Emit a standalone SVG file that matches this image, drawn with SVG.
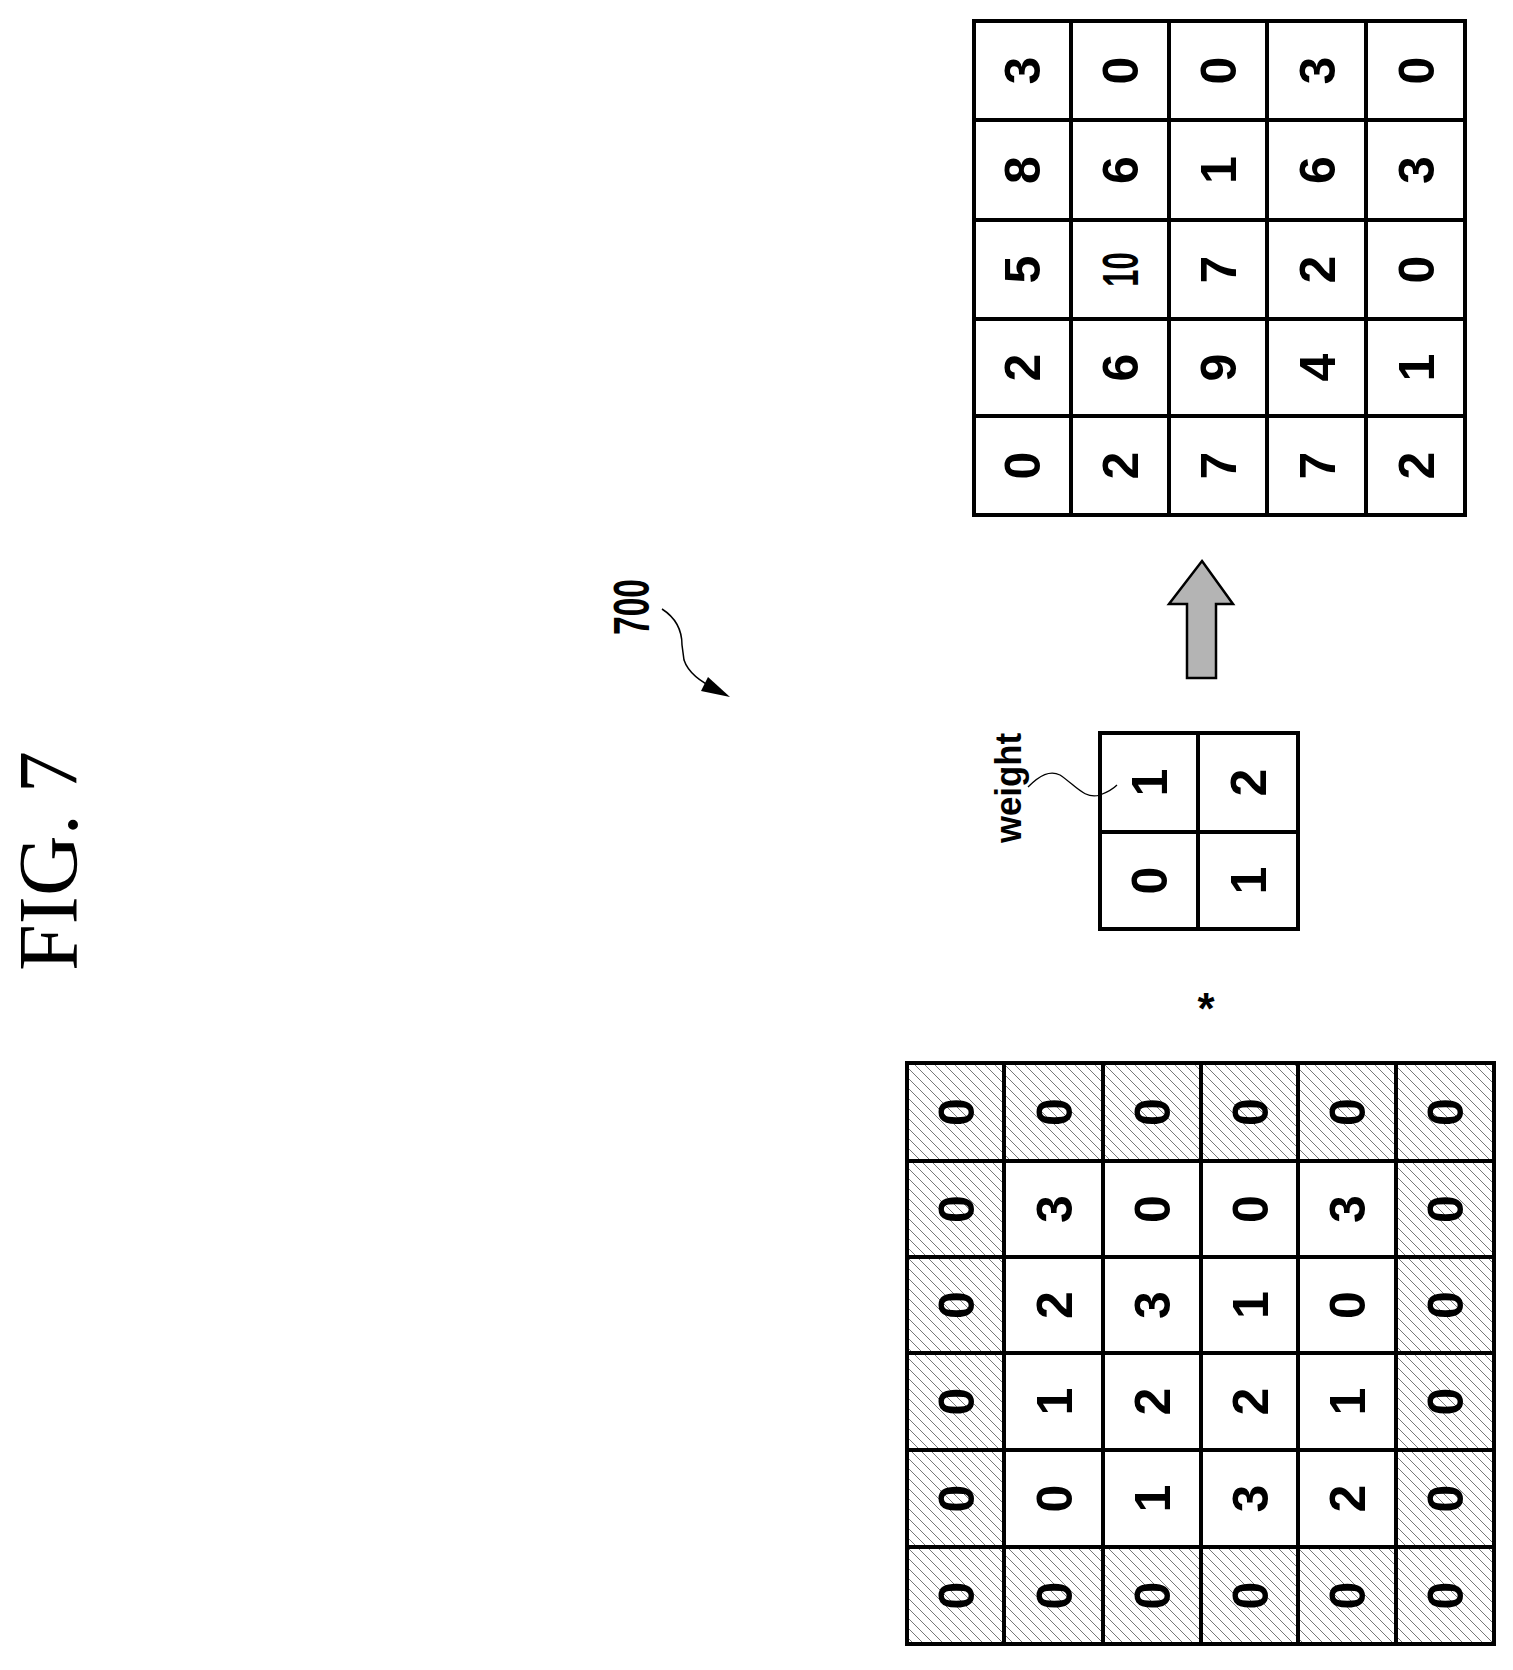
<svg xmlns="http://www.w3.org/2000/svg" width="1513" height="1670" viewBox="0 0 1513 1670">
<style>
.d{font-family:"Liberation Sans",Arial,sans-serif;font-weight:bold;font-size:50px;text-anchor:middle;fill:#000}
.g{fill:none;stroke:#000;stroke-width:4;stroke-linecap:square}
</style>
<defs>
<pattern id="h" patternUnits="userSpaceOnUse" width="10" height="10">
<path d="M0,0L10,10M-1,9L1,11M9,-1L11,1" stroke="#555" stroke-width="0.8"/>
</pattern>
</defs>
<rect width="1513" height="1670" fill="#fff"/>
<text transform="translate(77,861) rotate(-90)" font-family="Liberation Serif,serif" font-size="84" text-anchor="middle" textLength="220" lengthAdjust="spacing">FIG. 7</text>
<g id="label700">
<text class="d" transform="translate(649,607) rotate(-90)" font-size="54" textLength="56" lengthAdjust="spacingAndGlyphs">700</text>
</g>
<g id="connectors">
<path d="M662,609C676,618 682,630 682,645L684,660C688,672 700,682 718,690" fill="none" stroke="#000" stroke-width="1.5"/>
<path d="M708,677L730,697L701,691z" fill="#000"/>
<path d="M1028,787C1040,775 1050,770 1060,775C1075,785 1085,800 1100,795C1108,792 1112,790 1117,785" fill="none" stroke="#000" stroke-width="1.3"/>
</g>
<g id="output">
<rect x="974" y="21" width="491" height="494" class="g"/>
<path d="M1071,21V515M1169,21V515M1267,21V515M1366,21V515M974,120H1465M974,220H1465M974,319H1465M974,416H1465" class="g"/>
<text class="d" transform="translate(1040,70.5) rotate(-90)" textLength="17">3</text>
<text class="d" transform="translate(1138,70.5) rotate(-90)" textLength="17">0</text>
<text class="d" transform="translate(1236,70.5) rotate(-90)" textLength="17">0</text>
<text class="d" transform="translate(1334.5,70.5) rotate(-90)" textLength="17">3</text>
<text class="d" transform="translate(1433.5,70.5) rotate(-90)" textLength="17">0</text>
<text class="d" transform="translate(1040,170) rotate(-90)" textLength="17">8</text>
<text class="d" transform="translate(1138,170) rotate(-90)" textLength="17">6</text>
<text class="d" transform="translate(1236,170) rotate(-90)" textLength="17">1</text>
<text class="d" transform="translate(1334.5,170) rotate(-90)" textLength="17">6</text>
<text class="d" transform="translate(1433.5,170) rotate(-90)" textLength="17">3</text>
<text class="d" transform="translate(1040,269.5) rotate(-90)" textLength="17">5</text>
<text class="d" transform="translate(1138,269.5) rotate(-90) scale(0.62,1)">10</text>
<text class="d" transform="translate(1236,269.5) rotate(-90)" textLength="17">7</text>
<text class="d" transform="translate(1334.5,269.5) rotate(-90)" textLength="17">2</text>
<text class="d" transform="translate(1433.5,269.5) rotate(-90)" textLength="17">0</text>
<text class="d" transform="translate(1040,367.5) rotate(-90)" textLength="17">2</text>
<text class="d" transform="translate(1138,367.5) rotate(-90)" textLength="17">6</text>
<text class="d" transform="translate(1236,367.5) rotate(-90)" textLength="17">9</text>
<text class="d" transform="translate(1334.5,367.5) rotate(-90)" textLength="17">4</text>
<text class="d" transform="translate(1433.5,367.5) rotate(-90)" textLength="17">1</text>
<text class="d" transform="translate(1040,465.5) rotate(-90)" textLength="17">0</text>
<text class="d" transform="translate(1138,465.5) rotate(-90)" textLength="17">2</text>
<text class="d" transform="translate(1236,465.5) rotate(-90)" textLength="17">7</text>
<text class="d" transform="translate(1334.5,465.5) rotate(-90)" textLength="17">7</text>
<text class="d" transform="translate(1433.5,465.5) rotate(-90)" textLength="17">2</text>
</g>
<g id="arrow">
<path d="M1202,561L1233,604H1216V678H1187V604H1169Z" fill="#b4b4b4" stroke="#000" stroke-width="2.5" stroke-linejoin="miter"/>
</g>
<g id="weight">
<rect x="1100" y="733" width="198" height="196" class="g"/>
<path d="M1198,733V929M1100,832H1298" class="g"/>
<text class="d" transform="translate(1167,782.5) rotate(-90)" textLength="17">1</text>
<text class="d" transform="translate(1266,782.5) rotate(-90)" textLength="17">2</text>
<text class="d" transform="translate(1167,880.5) rotate(-90)" textLength="17">0</text>
<text class="d" transform="translate(1266,880.5) rotate(-90)" textLength="17">1</text>
<text transform="translate(1021,788) rotate(-90)" font-family="Liberation Sans,Arial,sans-serif" font-weight="bold" font-size="36" text-anchor="middle" textLength="110" lengthAdjust="spacingAndGlyphs">weight</text>
</g>
<g id="star">
<text x="1206" y="1024" font-family="Liberation Sans,Arial,sans-serif" font-weight="bold" font-size="44" text-anchor="middle">*</text>
</g>
<g id="input">
<path d="M907,1063H1494V1644H907ZM1004,1161V1547H1396V1161Z" fill="url(#h)" fill-rule="evenodd"/>
<rect x="907" y="1063" width="587" height="581" class="g"/>
<path d="M1004,1063V1644M1103,1063V1644M1201,1063V1644M1298,1063V1644M1396,1063V1644M907,1161H1494M907,1257H1494M907,1353H1494M907,1450H1494M907,1547H1494" class="g"/>
<text class="d" transform="translate(973.5,1112) rotate(-90)" textLength="17">0</text>
<text class="d" transform="translate(1071.5,1112) rotate(-90)" textLength="17">0</text>
<text class="d" transform="translate(1170,1112) rotate(-90)" textLength="17">0</text>
<text class="d" transform="translate(1267.5,1112) rotate(-90)" textLength="17">0</text>
<text class="d" transform="translate(1365,1112) rotate(-90)" textLength="17">0</text>
<text class="d" transform="translate(1463,1112) rotate(-90)" textLength="17">0</text>
<text class="d" transform="translate(973.5,1209) rotate(-90)" textLength="17">0</text>
<text class="d" transform="translate(1071.5,1209) rotate(-90)" textLength="17">3</text>
<text class="d" transform="translate(1170,1209) rotate(-90)" textLength="17">0</text>
<text class="d" transform="translate(1267.5,1209) rotate(-90)" textLength="17">0</text>
<text class="d" transform="translate(1365,1209) rotate(-90)" textLength="17">3</text>
<text class="d" transform="translate(1463,1209) rotate(-90)" textLength="17">0</text>
<text class="d" transform="translate(973.5,1305) rotate(-90)" textLength="17">0</text>
<text class="d" transform="translate(1071.5,1305) rotate(-90)" textLength="17">2</text>
<text class="d" transform="translate(1170,1305) rotate(-90)" textLength="17">3</text>
<text class="d" transform="translate(1267.5,1305) rotate(-90)" textLength="17">1</text>
<text class="d" transform="translate(1365,1305) rotate(-90)" textLength="17">0</text>
<text class="d" transform="translate(1463,1305) rotate(-90)" textLength="17">0</text>
<text class="d" transform="translate(973.5,1401.5) rotate(-90)" textLength="17">0</text>
<text class="d" transform="translate(1071.5,1401.5) rotate(-90)" textLength="17">1</text>
<text class="d" transform="translate(1170,1401.5) rotate(-90)" textLength="17">2</text>
<text class="d" transform="translate(1267.5,1401.5) rotate(-90)" textLength="17">2</text>
<text class="d" transform="translate(1365,1401.5) rotate(-90)" textLength="17">1</text>
<text class="d" transform="translate(1463,1401.5) rotate(-90)" textLength="17">0</text>
<text class="d" transform="translate(973.5,1498.5) rotate(-90)" textLength="17">0</text>
<text class="d" transform="translate(1071.5,1498.5) rotate(-90)" textLength="17">0</text>
<text class="d" transform="translate(1170,1498.5) rotate(-90)" textLength="17">1</text>
<text class="d" transform="translate(1267.5,1498.5) rotate(-90)" textLength="17">3</text>
<text class="d" transform="translate(1365,1498.5) rotate(-90)" textLength="17">2</text>
<text class="d" transform="translate(1463,1498.5) rotate(-90)" textLength="17">0</text>
<text class="d" transform="translate(973.5,1595.5) rotate(-90)" textLength="17">0</text>
<text class="d" transform="translate(1071.5,1595.5) rotate(-90)" textLength="17">0</text>
<text class="d" transform="translate(1170,1595.5) rotate(-90)" textLength="17">0</text>
<text class="d" transform="translate(1267.5,1595.5) rotate(-90)" textLength="17">0</text>
<text class="d" transform="translate(1365,1595.5) rotate(-90)" textLength="17">0</text>
<text class="d" transform="translate(1463,1595.5) rotate(-90)" textLength="17">0</text>
</g>
</svg>
